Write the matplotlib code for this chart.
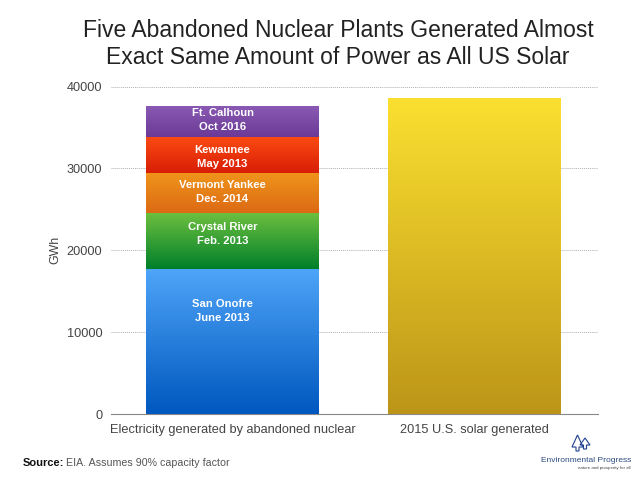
import numpy as np
import matplotlib
matplotlib.use('Agg')
import matplotlib.pyplot as plt
from matplotlib.colors import LinearSegmentedColormap
from matplotlib.patches import Polygon

categories = ['Electricity generated by abandoned nuclear', '2015 U.S. solar generated']
plant_names = ['San Onofre\nJune 2013', 'Crystal River\nFeb. 2013', 'Vermont Yankee\nDec. 2014',
               'Kewaunee\nMay 2013', 'Ft. Calhoun\nOct 2016']
plant_gwh = [17770, 6760, 4950, 4320, 3860]
solar_gwh = 38600
y_ticks = [0, 10000, 20000, 30000, 40000]

# where each label sits inside its segment, as a fraction of the segment height
label_fracs = [0.71, 0.62, 0.52, 0.44, 0.54]
plant_colors = [('#4fa5f8', '#0057be'), ('#6cbf3f', '#007f2a'), ('#f0951c', '#dc6a14'),
                ('#fa4a12', '#d81e06'), ('#8a5ab4', '#6a3a96')]
solar_colors = ('#fbe030', '#bc9518')

plt.rcParams['font.family'] = ['Liberation Sans', 'DejaVu Sans']


def gradient_bar(ax, x, bottom, height, colors, width=0.712):
    bar = ax.bar(x, height, width=width, bottom=bottom, color='none', linewidth=0)[0]
    cmap = LinearSegmentedColormap.from_list('g', [colors[0], colors[1]])
    grad = np.linspace(0, 1, 256).reshape(-1, 1)
    im = ax.imshow(grad, cmap=cmap, aspect='auto', zorder=3,
                   extent=(x - width / 2, x + width / 2, bottom, bottom + height))
    im.set_clip_path(bar)


fig = plt.figure(figsize=(6.4, 4.8), dpi=100)
ax = fig.add_axes([110.7 / 640, (480 - 414.3) / 480, 487.3 / 640, 327.8 / 480])

bottom = 0
for name, value, colors, frac in zip(plant_names, plant_gwh, plant_colors, label_fracs):
    gradient_bar(ax, 0, bottom, value, colors)
    ax.text(-0.041, bottom + value * frac, name, ha='center', va='center', color='white',
            fontsize=8.1, fontweight='bold', linespacing=1.5, zorder=5)
    bottom += value
gradient_bar(ax, 1, 0, solar_gwh, solar_colors)

ax.set_xlim(-0.503, 1.51)
ax.set_ylim(0, 40000)
ax.set_xticks([0, 1])
ax.set_xticklabels(categories, fontsize=9.2, color='#444444')
ax.set_yticks(y_ticks)
ax.set_yticklabels([str(t) for t in y_ticks], fontsize=9.2, color='#444444')
ax.tick_params(length=0)
ax.tick_params(axis='x', pad=7)
ax.tick_params(axis='y', pad=6)
ax.set_ylabel('GWh', fontsize=8.9, color='#444444', labelpad=4)
ax.set_axisbelow(True)
ax.yaxis.grid(True, linestyle=(0, (1, 1)), color='#b0b0b0', linewidth=0.7)
for side in ['top', 'right', 'left']:
    ax.spines[side].set_visible(False)
ax.spines['bottom'].set_color('#888888')
ax.spines['bottom'].set_linewidth(0.8)

fig.text(338 / 640, 1 - 44 / 480, 'Five Abandoned Nuclear Plants Generated Almost\nExact Same Amount of Power as All US Solar',
         ha='center', va='center', fontsize=16.5, color='#222222', linespacing=1.25)

fig.text(23 / 640, 1 - 463 / 480, 'Source:', fontsize=8, fontweight='bold', va='center', color='#111111')
fig.text(66 / 640, 1 - 463 / 480, 'EIA. Assumes 90% capacity factor', fontsize=7.7, va='center', color='#555555')

# logo: two outlined trees and the wordmark
logo = fig.add_axes([0, 0, 1, 1], facecolor='none')
logo.set_xlim(0, 640)
logo.set_ylim(480, 0)
logo.axis('off')
for cx, top, base, half in [(577.5, 435, 451, 5.5), (585, 438, 449, 5)]:
    pts = [(cx, top), (cx + half, base - 4), (cx + 1.5, base - 4), (cx + 1.5, base), (cx - 1.5, base),
           (cx - 1.5, base - 4), (cx - half, base - 4)]
    logo.add_patch(Polygon(pts, closed=True, fill=False, edgecolor='#1f3f8f', linewidth=0.8))
logo.text(631, 460, 'Environmental Progress', ha='right', va='center', fontsize=6, color='#2c4a80')
logo.text(631, 467.5, 'nature and prosperity for all', ha='right', va='center', fontsize=3.2, color='#444444')

fig.savefig('out.png', dpi=100)
